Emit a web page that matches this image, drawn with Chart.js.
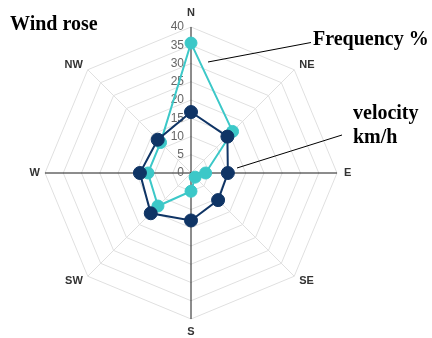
<!DOCTYPE html>
<html>
<head>
<meta charset="utf-8">
<script src="https://cdn.jsdelivr.net/npm/chart.js@4/dist/chart.umd.min.js"></script>
<style>
  body { margin: 0; background: #fff; }
  canvas { display: block; }
</style>
</head>
<body>
<canvas id="rosaVientos" width="432" height="338"></canvas>
<script>
var direcciones = ['N', 'NE', 'E', 'SE', 'S', 'SW', 'W', 'NW'];
var velocidad = [16.7, 14.1, 10.1, 10.5, 13, 15.6, 14, 12.9];
var frecuencia = [35.6, 16.1, 4, 1.6, 5, 12.8, 11.8, 11.8];
var marcas = [0, 5, 10, 15, 20, 25, 30, 35, 40];

var colorVelocidad = '#0f3465';
var colorFrecuencia = '#3cc8c8';

// etiquetas del eje, titulo y notas con sus lineas
var textos = {
  id: 'textos',
  beforeDatasetsDraw: function(chart) {
    var r = chart.scales.r;
    var ctx = chart.ctx;
    ctx.save();
    ctx.font = '12px "Liberation Sans", Arial, sans-serif';
    ctx.fillStyle = '#666';
    ctx.textAlign = 'right';
    ctx.textBaseline = 'middle';
    r.ticks.forEach(function(t) {
      ctx.fillText(t.label, r.xCenter - 7, r.yCenter - r.getDistanceFromCenterForValue(t.value));
    });
    ctx.restore();
  },
  afterDraw: function(chart) {
    var ctx = chart.ctx;
    ctx.save();
    ctx.fillStyle = '#000';
    ctx.font = 'bold 20px "Liberation Serif", "Times New Roman", serif';
    ctx.textAlign = 'left';
    ctx.textBaseline = 'alphabetic';
    ctx.fillText('Wind rose', 10, 30);
    ctx.fillText('Frequency %', 313, 45);
    ctx.fillText('velocity', 353, 119);
    ctx.fillText('km/h', 353, 143);
    ctx.strokeStyle = '#000';
    ctx.lineWidth = 1;
    ctx.beginPath();
    ctx.moveTo(208, 62);
    ctx.lineTo(311, 42.5);
    ctx.moveTo(237, 168);
    ctx.lineTo(342, 135);
    ctx.stroke();
    ctx.restore();
  }
};

var ctx = document.getElementById('rosaVientos').getContext('2d');
var rosa = new Chart(ctx, {
  type: 'radar',
  data: {
    labels: direcciones,
    datasets: [{
      label: 'velocity km/h',
      data: velocidad,
      borderColor: colorVelocidad,
      backgroundColor: colorVelocidad,
      pointBackgroundColor: colorVelocidad,
      pointBorderColor: colorVelocidad,
      borderWidth: 2,
      pointRadius: 6.5,
      pointBorderWidth: 1,
      fill: false
    }, {
      label: 'Frequency %',
      data: frecuencia,
      borderColor: colorFrecuencia,
      backgroundColor: colorFrecuencia,
      pointBackgroundColor: colorFrecuencia,
      pointBorderColor: colorFrecuencia,
      borderWidth: 2,
      pointRadius: 6,
      pointBorderWidth: 1,
      fill: false
    }]
  },
  options: {
    responsive: false,
    animation: false,
    layout: { padding: { top: 6, bottom: 0, left: 0, right: 49 } },
    plugins: {
      legend: { display: false },
      tooltip: { enabled: false }
    },
    elements: { line: { tension: 0 } },
    scales: {
      r: {
        min: marcas[0],
        max: marcas[marcas.length - 1],
        startAngle: 0,
        ticks: { display: false, stepSize: marcas[1] - marcas[0] },
        grid: { color: '#e0e0e0', lineWidth: 1 },
        angleLines: {
          lineWidth: 1,
          color: function(c) { return c.index % 2 === 0 ? '#1a1a1a' : '#e0e0e0'; }
        },
        pointLabels: {
          color: '#333',
          font: function(c) {
            return { family: '"Liberation Sans", Arial, sans-serif', size: 11, weight: 'bold', lineHeight: c.index % 2 ? 0.01 : 1 };
          },
          padding: function(c) { return [9, 7, 7, 7, 7, 7, 5, 7][c.index]; }
        }
      }
    }
  },
  plugins: [textos]
});
</script>
</body>
</html>
